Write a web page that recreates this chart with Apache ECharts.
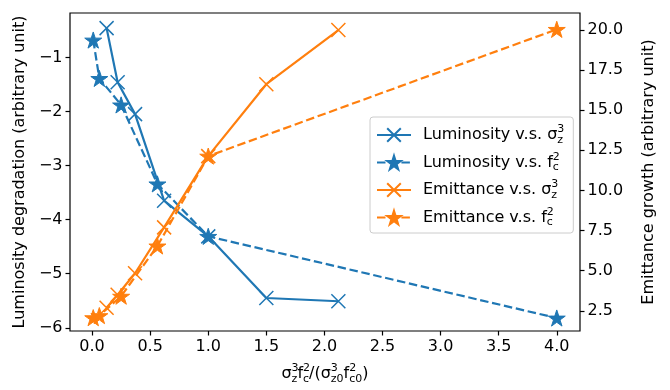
<!DOCTYPE html>
<html><head><meta charset="utf-8">
<script src="https://cdn.jsdelivr.net/npm/echarts@6/dist/echarts.min.js"></script>
<style>html,body{margin:0;padding:0;background:#fff}#c{width:670px;height:390px}</style>
</head><body><div id="c"></div>
<script>
// ---- data ----
const xSigma    = [0.125, 0.22, 0.37, 0.62, 1.0, 1.5, 2.12];
const xFc       = [0.01, 0.0625, 0.25, 0.5625, 1.0, 4.0];
const lumSigma  = [-0.46, -1.46, -2.05, -3.65, -4.31, -5.45, -5.51];
const lumFc     = [-0.68, -1.39, -1.88, -3.34, -4.31, -5.82];
const emitSigma = [2.69, 3.5, 4.84, 7.70, 12.14, 16.62, 20.0];
const emitFc    = [2.07, 2.20, 3.41, 6.54, 12.14, 20.04];
const xTicks      = [0, 0.5, 1, 1.5, 2, 2.5, 3, 3.5, 4];
const yLeftTicks  = [-6, -5, -4, -3, -2, -1];
const yRightTicks = [2.5, 5, 7.5, 10, 12.5, 15, 17.5, 20];
const seriesNames = ['Luminosity v.s. σz3', 'Luminosity v.s. fc2', 'Emittance v.s. σz3', 'Emittance v.s. fc2'];
const legendRich  = [
  '{m|Luminosity v.s. σ}{p|3}{b|z}',
  '{m|Luminosity v.s. f}{p|2}{b|c}',
  '{m|Emittance v.s. σ}{p|3}{b|z}',
  '{m|Emittance v.s. f}{p|2}{b|c}'
];
const xName = '{m|σ}{p|3}{b|z}{m|f}{p|2}{b|c}{m|/(σ}{p|3}{b|z0}{m|f}{p|2}{b|c0}{m|)}';
const yLeftName  = 'Luminosity degradation (arbitrary unit)';
const yRightName = 'Emittance growth (arbitrary unit)';

// ---- styling ----
const FONT = 'DejaVu Sans';
const FS = 16;
const C1 = '#1f77b4', C2 = '#ff7f0e';
function starPath() {
  const pts = [];
  for (let i = 0; i < 10; i++) {
    const a = -Math.PI / 2 + i * Math.PI / 5;
    const r = i % 2 ? 0.381966 : 1;
    pts.push((50 + 50 * r * Math.cos(a)).toFixed(2) + ',' + (50 + 50 * r * Math.sin(a)).toFixed(2));
  }
  return 'path://M' + pts.join('L') + 'Z';
}
const STAR = starPath();
const CROSS = 'path://M0,0L10,10M0,10L10,0';
const rich = {
  m: {fontSize: FS, fontFamily: FONT, color: '#000', align: 'left', lineHeight: 16},
  p: {fontSize: 11, fontFamily: FONT, color: '#000', align: 'left', lineHeight: 16, width: 0, padding: [0, 0, 11, 0]},
  b: {fontSize: 11, fontFamily: FONT, color: '#000', align: 'left', lineHeight: 16, padding: [10, 0, 0, 0]}
};
function pairs(xs, ys) { return xs.map((x, i) => [x, ys[i]]); }
function lineSeries(name, xs, ys, yIdx, color, dashed, sym) {
  return {
    name, type: 'line', xAxisIndex: 0, yAxisIndex: yIdx,
    data: pairs(xs, ys),
    symbol: sym === 'star' ? STAR : CROSS,
    symbolSize: sym === 'star' ? 17 : 14,
    symbolKeepAspect: true,
    showAllSymbol: true,
    clip: false,
    lineStyle: {color, width: 2.2, type: dashed ? [8.5, 3.7] : 'solid'},
    itemStyle: {color, borderColor: color, borderWidth: sym === 'star' ? 1 : 1.5},
    emphasis: {disabled: true}
  };
}
const axisCommon = {
  axisLine: {show: false, onZero: false},
  axisTick: {show: true, length: 4.5, lineStyle: {color: '#000', width: 1.2}},
  splitLine: {show: false},
  nameTextStyle: {fontFamily: FONT, fontSize: FS, color: '#000'}
};
const labelStyle = {fontFamily: FONT, fontSize: FS, color: '#000', margin: 7.5};

const chart = echarts.init(document.getElementById('c'), null, {renderer: 'canvas'});
chart.setOption({
  animation: false,
  backgroundColor: '#fff',
  grid: {left: 70, right: 90, top: 13, bottom: 55, show: true, borderColor: '#000', borderWidth: 1.2, backgroundColor: 'transparent'},
  legend: {
    data: seriesNames,
    orient: 'vertical', left: 370, top: 117,
    itemWidth: 34, itemHeight: 17, itemGap: 5.5,
    padding: [7, 9, 4.5, 6],
    backgroundColor: 'rgba(255,255,255,0.8)',
    borderColor: '#cccccc', borderWidth: 1, borderRadius: 3,
    formatter: n => legendRich[seriesNames.indexOf(n)],
    textStyle: {fontFamily: FONT, fontSize: FS, color: '#000', padding: [0, 0, 0, 7], rich}
  },
  xAxis: [Object.assign({}, axisCommon, {
    type: 'value', min: -0.19, max: 4.2,
    axisTick: Object.assign({}, axisCommon.axisTick, {customValues: xTicks}),
    axisLabel: Object.assign({customValues: xTicks, formatter: v => v.toFixed(1)}, labelStyle),
    name: xName, nameLocation: 'middle', nameGap: 35,
    nameTextStyle: {fontFamily: FONT, fontSize: FS, color: '#000', rich}
  })],
  yAxis: [
    Object.assign({}, axisCommon, {
      type: 'value', position: 'left', min: -6.06, max: -0.18,
      axisTick: Object.assign({}, axisCommon.axisTick, {customValues: yLeftTicks}),
      axisLabel: Object.assign({customValues: yLeftTicks, formatter: v => (v < 0 ? '\u2212' : '') + Math.abs(v)}, labelStyle),
      name: yLeftName, nameLocation: 'middle', nameGap: 33, nameRotate: 90
    }),
    Object.assign({}, axisCommon, {
      type: 'value', position: 'right', min: 1.24, max: 21.06,
      axisTick: Object.assign({}, axisCommon.axisTick, {customValues: yRightTicks}),
      axisLabel: Object.assign({customValues: yRightTicks, formatter: v => v.toFixed(1)}, labelStyle),
      name: yRightName, nameLocation: 'middle', nameGap: 61, nameRotate: 90
    })
  ],
  series: [
    lineSeries(seriesNames[0], xSigma, lumSigma, 0, C1, false, 'cross'),
    lineSeries(seriesNames[1], xFc, lumFc, 0, C1, true, 'star'),
    lineSeries(seriesNames[2], xSigma, emitSigma, 1, C2, false, 'cross'),
    lineSeries(seriesNames[3], xFc, emitFc, 1, C2, true, 'star')
  ]
});
</script></body></html>
